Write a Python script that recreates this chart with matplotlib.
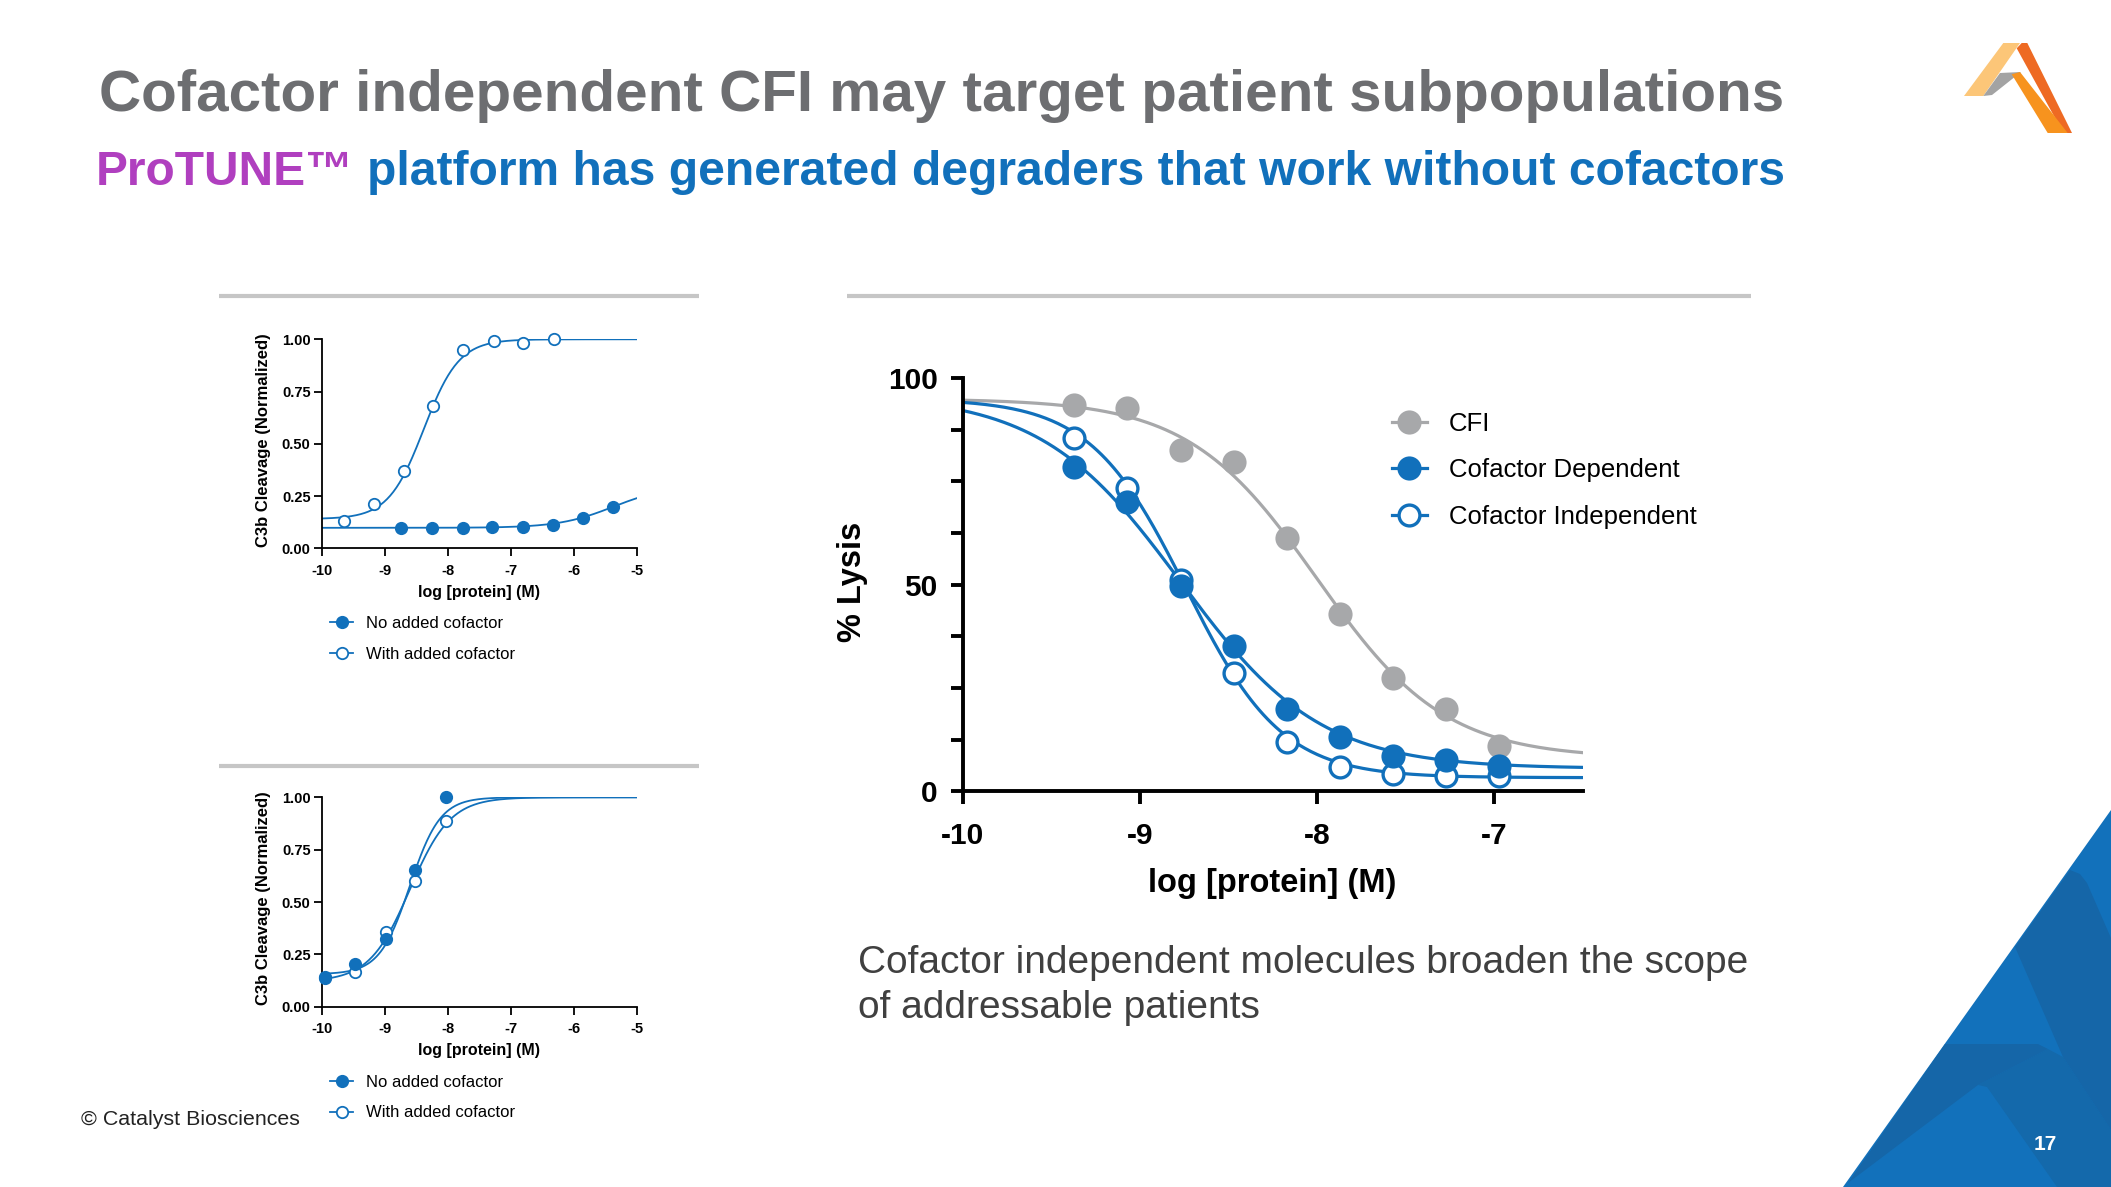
import numpy as np
import matplotlib.pyplot as plt
from matplotlib.lines import Line2D
from matplotlib.patches import Polygon
from matplotlib.ticker import MultipleLocator

plt.rcParams['font.family'] = ['Liberation Sans', 'DejaVu Sans']

W, H = 2111, 1187
BLUE = '#1170bb'
GRAY = '#a7a8aa'
PURPLE = '#b03fbf'
TITLE_GRAY = '#6d6e71'

# --- main chart: % lysis vs log concentration ---
main_x = [-9.37, -9.07, -8.77, -8.47, -8.17, -7.87, -7.57, -7.27, -6.97]
cfi_y = [93.6, 92.8, 82.6, 79.6, 61.2, 43.0, 27.4, 20.0, 10.9]
dep_y = [78.5, 70.1, 49.7, 35.1, 20.0, 13.2, 8.6, 7.5, 6.2]
indep_y = [85.6, 73.3, 51.2, 28.7, 11.9, 5.8, 4.1, 3.7, 3.7]
# curve fits: bottom, top, logIC50, hill
cfi_fit = [8.0, 95.0, -8.0, 1.2]
dep_fit = [5.5, 96.0, -8.77, 1.1]
indep_fit = [3.3, 95.0, -8.74, 1.6]
main_labels = ['CFI', 'Cofactor Dependent', 'Cofactor Independent']

# --- top left: C3b cleavage ---
tl_open_x = [-9.64, -9.17, -8.70, -8.23, -7.76, -7.27, -6.80, -6.32]
tl_open_y = [0.132, 0.212, 0.370, 0.681, 0.949, 0.994, 0.984, 1.0]
tl_fill_x = [-8.74, -8.25, -7.76, -7.29, -6.81, -6.33, -5.85, -5.38]
tl_fill_y = [0.099, 0.099, 0.099, 0.102, 0.104, 0.112, 0.144, 0.198]
tl_open_fit = [0.14, 1.0, -8.38, 1.55]
tl_fill_fit = [0.098, 0.30, -5.37, 1.0]

# --- bottom left: C3b cleavage ---
bl_x = [-9.95, -9.47, -8.98, -8.52, -8.03]
bl_fill_y = [0.140, 0.202, 0.322, 0.653, 1.0]
bl_open_y = [0.135, 0.167, 0.358, 0.600, 0.887]
bl_fill_fit = [0.155, 1.0, -8.60, 1.8]
bl_open_fit = [0.12, 1.0, -8.60, 1.35]
small_labels = ['No added cofactor', 'With added cofactor']


def falling(x, p):
    b, t, c, h = p
    return b + (t - b) / (1 + 10 ** ((x - c) * h))


def rising(x, p):
    b, t, c, h = p
    return b + (t - b) / (1 + 10 ** ((c - x) * h))


fig = plt.figure(figsize=(W / 100, H / 100), dpi=100)
bg = fig.add_axes([0, 0, 1, 1])
bg.set_xlim(0, W)
bg.set_ylim(H, 0)
bg.axis('off')


def px_axes(l, t, r, b):
    return fig.add_axes([l / W, 1 - b / H, (r - l) / W, (b - t) / H])


# titles
bg.text(99, 111, 'Cofactor independent CFI may target patient subpopulations',
        fontsize=42, weight='bold', color=TITLE_GRAY, va='baseline')
bg.text(96, 185, 'ProTUNE\u2122', fontsize=34.5, weight='bold', color=PURPLE, va='baseline')
bg.text(367, 185, 'platform has generated degraders that work without cofactors',
        fontsize=34.6, weight='bold', color=BLUE, va='baseline')

# grey rules above the panels
for x0, x1, y in [(219, 699, 295.5), (847, 1751, 295.5), (219, 699, 766)]:
    bg.plot([x0, x1], [y, y], color='#c6c6c6', lw=3, solid_capstyle='butt')

# corner triangle with darker facets
bg.add_patch(Polygon([(1843, 1187), (2111, 810), (2111, 1187)], color='#1271bb', lw=0))
bg.add_patch(Polygon([(1978, 1085), (1987, 1087), (2057, 1187), (2111, 1187), (2111, 1130),
                      (2063, 1057), (2048, 1049)], color='#1469ab', lw=0))
bg.add_patch(Polygon([(2015, 947), (2070, 870), (2080, 874), (2087, 883), (2111, 938),
                      (2111, 1130), (2063, 1057)], color='#1566a8', lw=0))
bg.add_patch(Polygon([(1945, 1044), (2038, 1044), (2048, 1049), (1978, 1085), (1848, 1183)],
                     color='#1566a8', lw=0))
bg.text(2045, 1145, '17', color='white', fontsize=15, weight='bold', ha='center', va='center')

# logo
bg.add_patch(Polygon([(1964, 96), (2003.3, 43), (2020, 43), (1983.3, 96)], color='#fcc678', lw=0))
bg.add_patch(Polygon([(1983.3, 96), (2000, 73), (2021, 72), (1992, 95)], color='#a3a3a3', lw=0))
bg.add_patch(Polygon([(2016.7, 48.3), (2021.7, 43), (2027.3, 43), (2072, 133), (2063.3, 133)],
                     color='#ee6a23', lw=0))
bg.add_patch(Polygon([(2011.7, 74.3), (2020, 72), (2067.7, 133), (2047.7, 133)], color='#f7931e', lw=0))

# footer and note
bg.text(81, 1125, '\u00a9 Catalyst Biosciences', fontsize=15.4, color='#222222', va='baseline')
bg.text(858, 973, 'Cofactor independent molecules broaden the scope', fontsize=28,
        color='#404040', va='baseline')
bg.text(858, 1018, 'of addressable patients', fontsize=28, color='#404040', va='baseline')

# ---------------- main chart ----------------
ax = px_axes(962.7, 378.1, 1582.6, 791.3)
xx = np.linspace(-10, -6.5, 300)
ms, mew = 15, 2.4
ax.plot(xx, falling(xx, cfi_fit), color=GRAY, lw=2.3, zorder=2)
ax.plot(xx, falling(xx, indep_fit), color=BLUE, lw=2.3, zorder=2)
ax.plot(xx, falling(xx, dep_fit), color=BLUE, lw=2.3, zorder=2)
ax.plot(main_x, cfi_y, 'o', color=GRAY, ms=ms, mew=mew, zorder=3, clip_on=False)
ax.plot(main_x, indep_y, 'o', mfc='white', mec=BLUE, ms=ms, mew=mew, zorder=3, clip_on=False)
ax.plot(main_x, dep_y, 'o', color=BLUE, ms=ms, mew=mew, zorder=4, clip_on=False)
ax.set_xlim(-10, -6.5)
ax.set_ylim(0, 100)
for s in ['top', 'right']:
    ax.spines[s].set_visible(False)
for s in ['left', 'bottom']:
    ax.spines[s].set_linewidth(2.8)
ax.set_xticks([-10, -9, -8, -7])
ax.set_xticklabels(['-10', '-9', '-8', '-7'])
ax.set_yticks([0, 50, 100])
ax.yaxis.set_minor_locator(MultipleLocator(12.5))
ax.tick_params(axis='both', which='both', width=2.8, length=9, labelsize=21.5)
ax.tick_params(axis='x', pad=13)
ax.tick_params(axis='y', pad=9)
for lab in ax.get_xticklabels() + ax.get_yticklabels():
    lab.set_fontweight('bold')
ax.set_xlabel('log [protein] (M)', fontsize=23.5, weight='bold')
ax.xaxis.set_label_coords(0.5, -0.224)
ax.xaxis.label.set_va('center')
ax.set_ylabel('% Lysis', fontsize=23.5, weight='bold')
ax.yaxis.set_label_coords(-0.177, 0.5065)
ax.yaxis.label.set_va('center')
handles = [
    Line2D([], [], color=GRAY, lw=2.3, marker='o', ms=ms, mew=mew),
    Line2D([], [], color=BLUE, lw=2.3, marker='o', ms=ms, mew=mew),
    Line2D([], [], color=BLUE, lw=2.3, marker='o', ms=ms, mew=mew, mfc='white', mec=BLUE),
]
ax.legend(handles, main_labels, loc='upper left', bbox_to_anchor=(0.6925, 0.918),
          frameon=False, fontsize=18.5, handlelength=1.35, handletextpad=0.86,
          labelspacing=0.87, borderpad=0, borderaxespad=0)


# ---------------- small charts ----------------
def small_chart(l, t, r, b, open_x, open_y, open_fit, fill_x, fill_y, fill_fit):
    a = px_axes(l, t, r, b)
    xs = np.linspace(-10, -5, 300)
    a.plot(xs, rising(xs, open_fit), color=BLUE, lw=1.3, zorder=2)
    a.plot(xs, rising(xs, fill_fit), color=BLUE, lw=1.3, zorder=2)
    a.plot(open_x, open_y, 'o', mfc='white', mec=BLUE, ms=8.2, mew=1.3, zorder=3, clip_on=False)
    a.plot(fill_x, fill_y, 'o', color=BLUE, ms=8.2, mew=1.3, zorder=4, clip_on=False)
    a.set_xlim(-10, -5)
    a.set_ylim(0, 1)
    for s in ['top', 'right']:
        a.spines[s].set_visible(False)
    for s in ['left', 'bottom']:
        a.spines[s].set_linewidth(1.3)
    a.set_xticks([-10, -9, -8, -7, -6, -5])
    a.set_xticklabels(['-10', '-9', '-8', '-7', '-6', '-5'])
    a.set_yticks([0, 0.25, 0.5, 0.75, 1.0])
    a.set_yticklabels(['0.00', '0.25', '0.50', '0.75', '1.00'])
    a.tick_params(axis='both', width=1.3, length=6, labelsize=10.5)
    a.tick_params(axis='x', pad=5)
    a.tick_params(axis='y', pad=2)
    for lab in a.get_xticklabels() + a.get_yticklabels():
        lab.set_fontweight('bold')
    a.set_xlabel('log [protein] (M)', fontsize=11.5, weight='bold')
    a.xaxis.set_label_coords(0.5, -0.2105)
    a.xaxis.label.set_va('center')
    a.set_ylabel('C3b Cleavage (Normalized)', fontsize=12, weight='bold')
    a.yaxis.set_label_coords(-0.185, 0.518)
    a.yaxis.label.set_va('center')
    hs = [
        Line2D([], [], color=BLUE, lw=1.3, marker='o', ms=8.2, mew=1.3),
        Line2D([], [], color=BLUE, lw=1.3, marker='o', ms=8.2, mew=1.3, mfc='white', mec=BLUE),
    ]
    a.legend(hs, small_labels, loc='upper left', bbox_to_anchor=(0.026, -0.324),
             frameon=False, fontsize=12, handlelength=1.4, handletextpad=0.78,
             labelspacing=0.95, borderpad=0, borderaxespad=0)
    return a


small_chart(321.7, 339.3, 636.7, 548.3, tl_open_x, tl_open_y, tl_open_fit,
            tl_fill_x, tl_fill_y, tl_fill_fit)
small_chart(321.7, 797.3, 636.7, 1006.7, bl_x, bl_open_y, bl_open_fit,
            bl_x, bl_fill_y, bl_fill_fit)

plt.savefig('out.png', dpi=100)
